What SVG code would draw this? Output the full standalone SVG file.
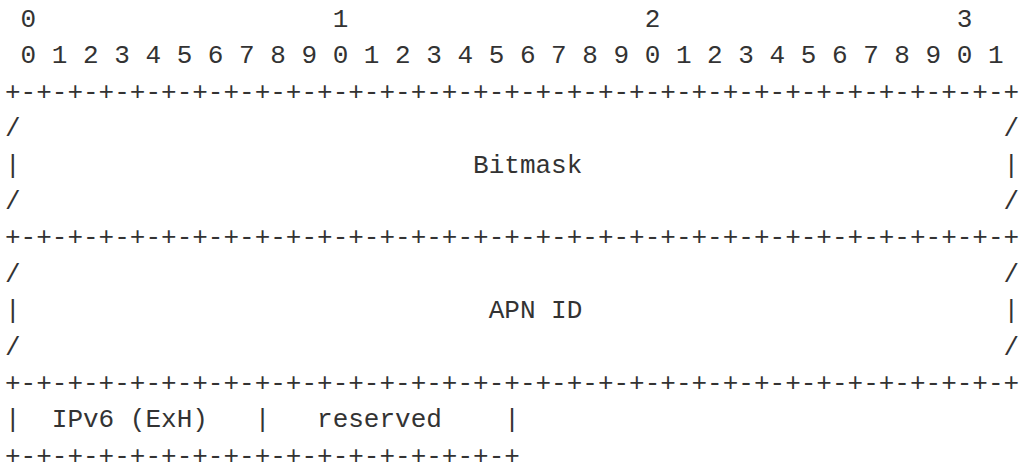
<svg xmlns="http://www.w3.org/2000/svg" width="1024" height="471" viewBox="0 0 1024 471">
<style>
text{font-family:"Liberation Mono","DejaVu Sans Mono",monospace;font-size:26px;fill:#333;white-space:pre}
</style>
<rect width="1024" height="471" fill="#fff"/>
<g id="ruler">
<text x="5" y="27" xml:space="preserve"> 0                   1                   2                   3</text>
<text x="5" y="63.4" xml:space="preserve"> 0 1 2 3 4 5 6 7 8 9 0 1 2 3 4 5 6 7 8 9 0 1 2 3 4 5 6 7 8 9 0 1</text>
</g>
<g id="field-bitmask">
<text x="5" y="99.8" xml:space="preserve">+-+-+-+-+-+-+-+-+-+-+-+-+-+-+-+-+-+-+-+-+-+-+-+-+-+-+-+-+-+-+-+-+</text>
<text x="5" y="136.2" xml:space="preserve">/                                                               /</text>
<text x="5" y="172.6" xml:space="preserve">|                             Bitmask                           |</text>
<text x="5" y="209" xml:space="preserve">/                                                               /</text>
</g>
<g id="field-apn-id">
<text x="5" y="245.4" xml:space="preserve">+-+-+-+-+-+-+-+-+-+-+-+-+-+-+-+-+-+-+-+-+-+-+-+-+-+-+-+-+-+-+-+-+</text>
<text x="5" y="281.8" xml:space="preserve">/                                                               /</text>
<text x="5" y="318.2" xml:space="preserve">|                              APN ID                           |</text>
<text x="5" y="354.6" xml:space="preserve">/                                                               /</text>
</g>
<g id="field-ipv6-exh-reserved">
<text x="5" y="391" xml:space="preserve">+-+-+-+-+-+-+-+-+-+-+-+-+-+-+-+-+-+-+-+-+-+-+-+-+-+-+-+-+-+-+-+-+</text>
<text x="5" y="427.4" xml:space="preserve">|  IPv6 (ExH)   |   reserved    |</text>
<text x="5" y="463.8" xml:space="preserve">+-+-+-+-+-+-+-+-+-+-+-+-+-+-+-+-+</text>
</g>
</svg>
